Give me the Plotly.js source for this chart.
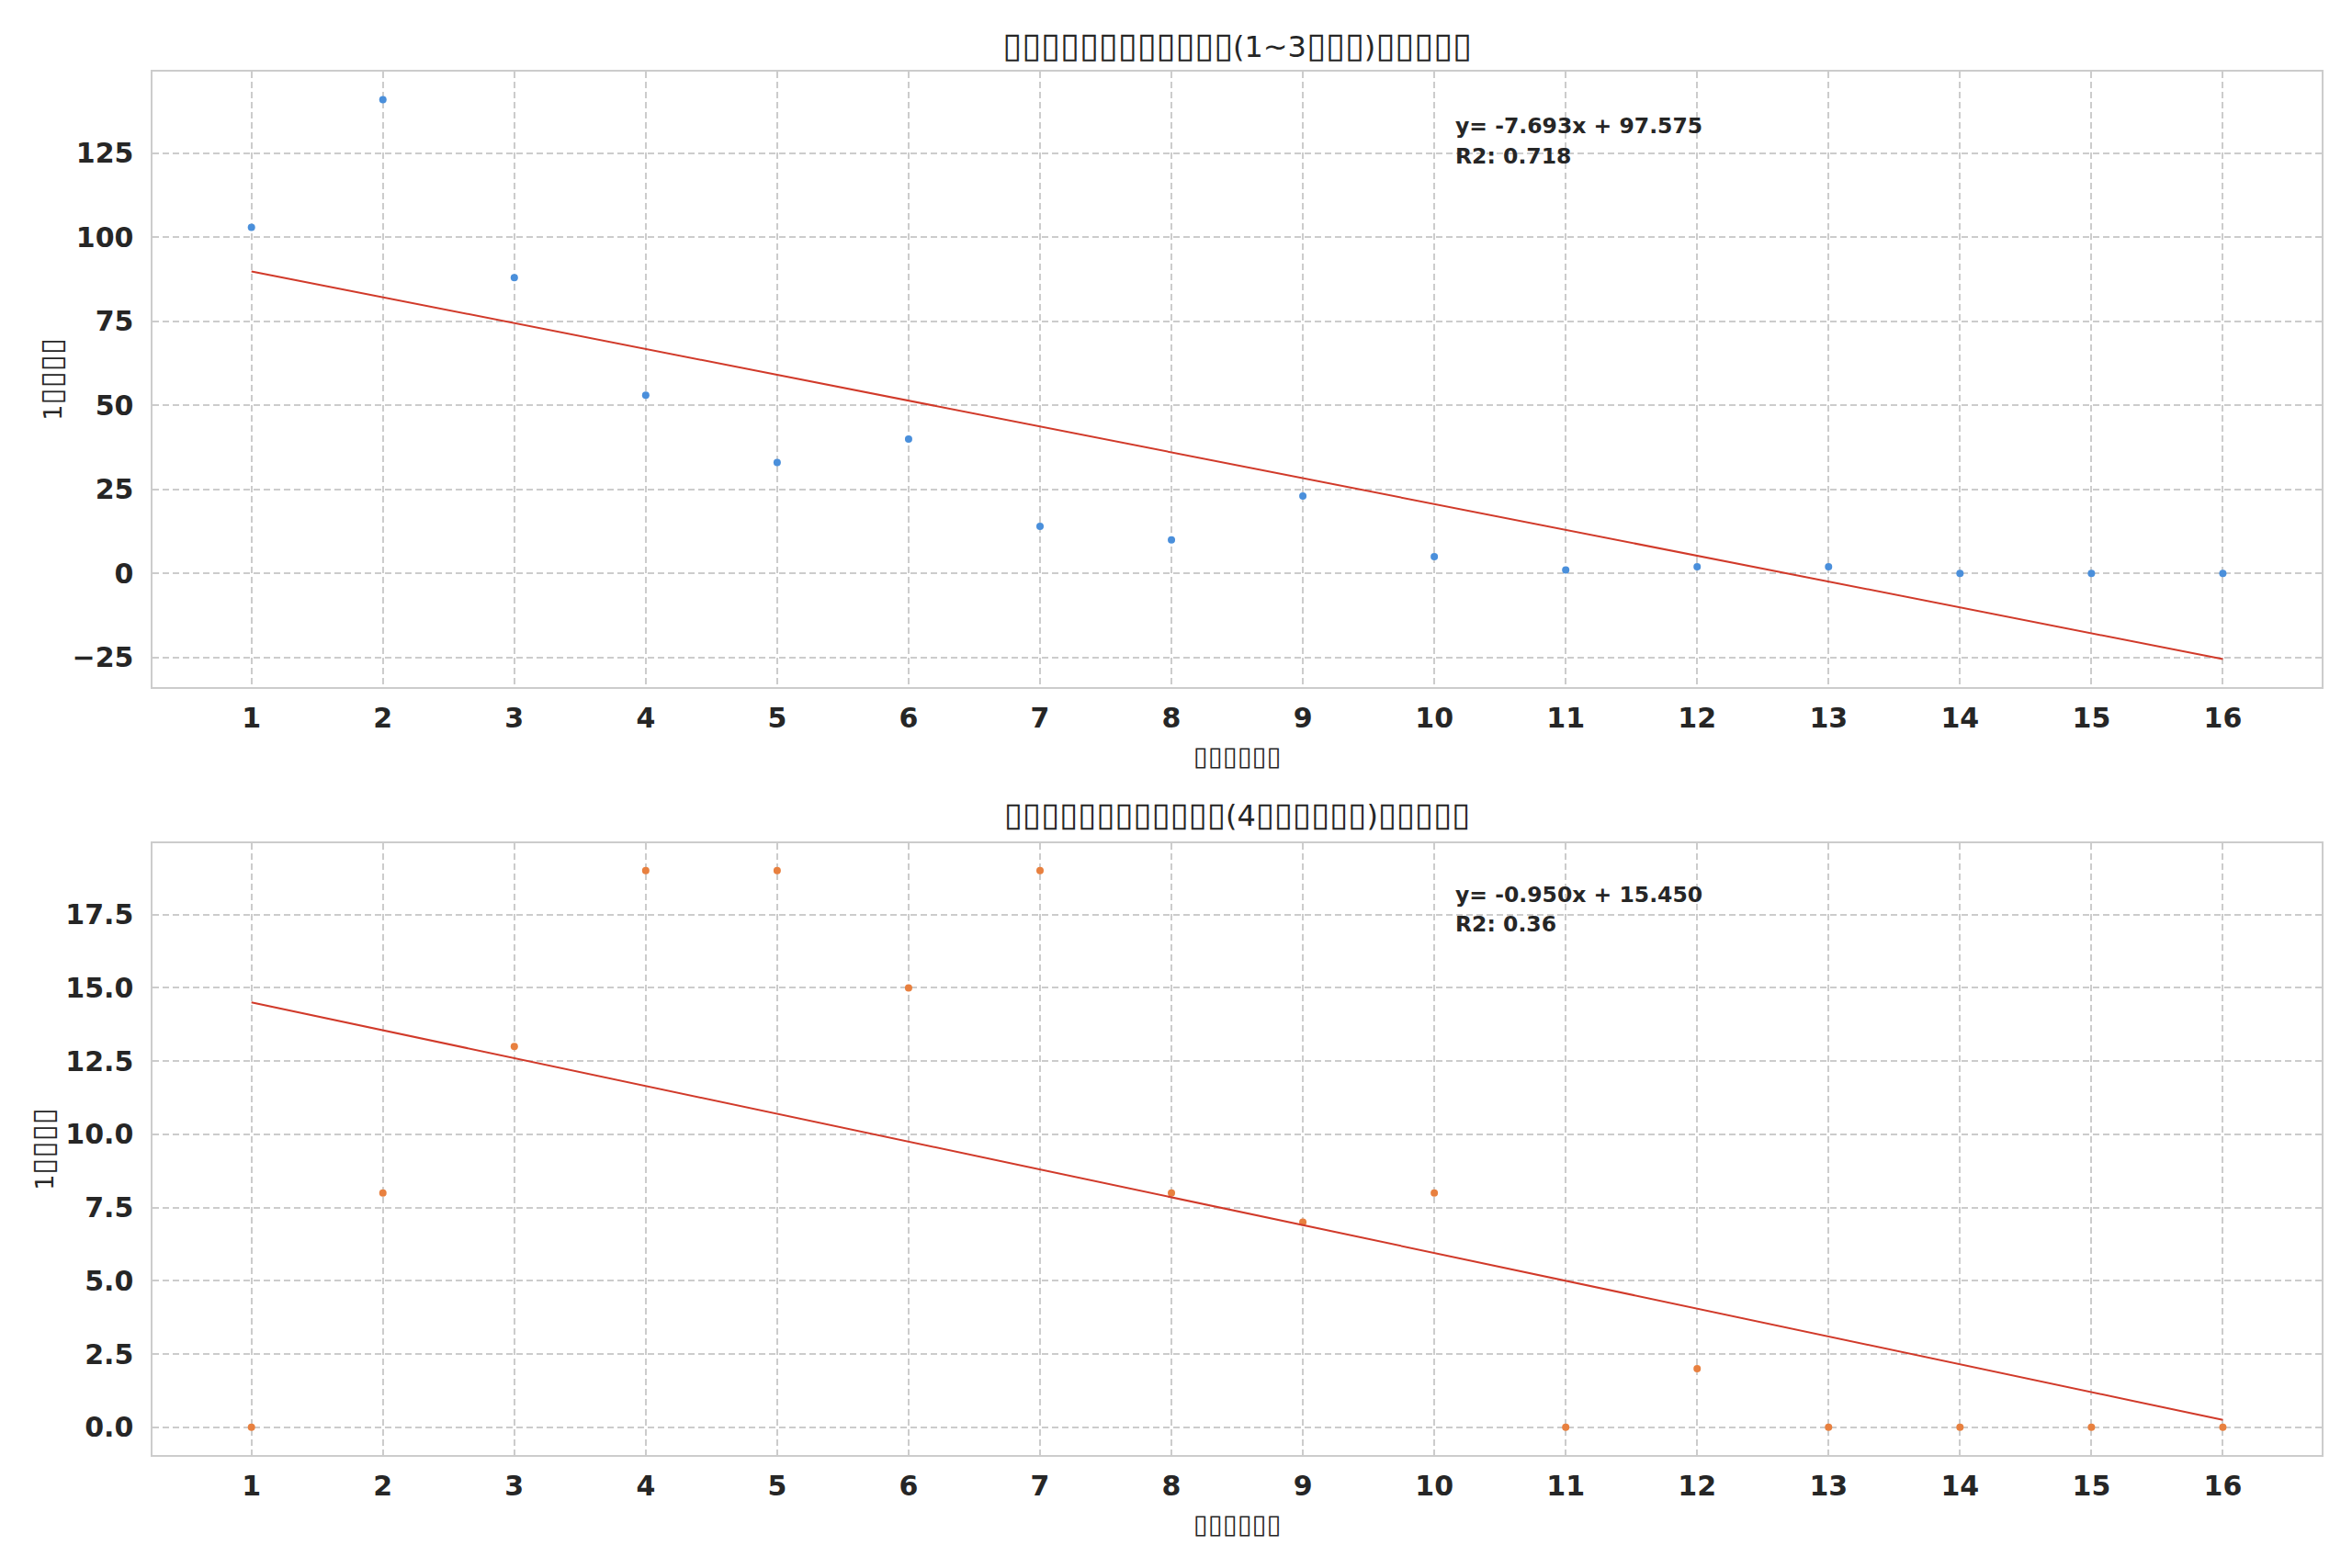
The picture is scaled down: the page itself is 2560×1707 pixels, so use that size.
<!DOCTYPE html>
<html>
<head>
<meta charset="utf-8">
<script src="https://cdn.plot.ly/plotly-3.0.1.min.js"></script>
<style>
  html, body { margin: 0; padding: 0; background: #ffffff; }
  #chart { width: 2560px; height: 1707px; }
</style>
</head>
<body>
<div id="chart"></div>
<script>
// weeks on the x axis, counts per week for the two groups
var weeks = [1, 2, 3, 4, 5, 6, 7, 8, 9, 10, 11, 12, 13, 14, 15, 16];
var counts_top = [103, 141, 88, 53, 33, 40, 14, 10, 23, 5, 1, 2, 2, 0, 0, 0];
var counts_bottom = [0, 8, 13, 19, 19, 15, 19, 8, 7, 8, 0, 2, 0, 0, 0, 0];

// text as it appears in the picture (missing glyphs shown as boxes)
var titles = ['▯▯▯▯▯▯▯▯▯▯▯▯(1~3▯▯▯)▯▯▯▯▯', '▯▯▯▯▯▯▯▯▯▯▯▯(4▯▯▯▯▯▯)▯▯▯▯▯'];
var x_label = '▯▯▯▯▯▯';
var y_label = '1▯▯▯▯';
var eq_labels = ['y= -7.693x + 97.575', 'y= -0.950x + 15.450'];
var r2_labels = ['R2: 0.718', 'R2: 0.36'];

var point_colors = ['#4a8fdb', '#e8803f'];
var fit_color = '#d13a2a';
var grid_color = '#cccccc';
var text_color = '#262626';

// least squares line through the points
function fit_line(x, y) {
    var n = x.length;
    var mx = x.reduce((a, b) => a + b, 0) / n;
    var my = y.reduce((a, b) => a + b, 0) / n;
    var sxy = 0, sxx = 0;
    for (var i = 0; i < n; i++) {
        sxy += (x[i] - mx) * (y[i] - my);
        sxx += (x[i] - mx) * (x[i] - mx);
    }
    var slope = sxy / sxx;
    var intercept = my - slope * mx;
    return x.map(v => slope * v + intercept);
}

// matplotlib style 5% padding
function pad_range(values) {
    var lo = Math.min.apply(null, values);
    var hi = Math.max.apply(null, values);
    var m = (hi - lo) * 0.05;
    return [lo - m, hi + m];
}

// the missing-glyph boxes are drawn a bit larger than the rest
function boxes(text, size) {
    return text.replace(/(▯+)/g, '<span style="font-size:' + size + 'px">$1</span>');
}

var fit_top = fit_line(weeks, counts_top);
var fit_bottom = fit_line(weeks, counts_bottom);

var tick_font = {family: 'DejaVu Sans', size: 30, color: text_color, weight: 'bold'};

function x_axis(anchor) {
    return {
        anchor: anchor,
        domain: [0.065, 0.987],
        range: pad_range(weeks),
        tickvals: weeks,
        ticktext: weeks.map(String),
        showgrid: true,
        gridcolor: grid_color,
        gridwidth: 2,
        griddash: '7px,4px',
        zeroline: false,
        showline: true,
        mirror: true,
        linecolor: grid_color,
        linewidth: 2,
        ticks: '',
        ticklabelstandoff: 6,
        tickfont: tick_font
    };
}

function y_axis(anchor, domain, range, dtick, fmt) {
    return {
        anchor: anchor,
        domain: domain,
        range: range,
        dtick: dtick,
        tick0: 0,
        tickformat: fmt,
        showgrid: true,
        gridcolor: grid_color,
        gridwidth: 2,
        griddash: '7px,4px',
        zeroline: false,
        showline: true,
        mirror: true,
        linecolor: grid_color,
        linewidth: 2,
        ticks: '',
        ticklabelstandoff: 13,
        tickfont: tick_font
    };
}

var data = [
    {x: weeks, y: counts_top, xaxis: 'x', yaxis: 'y', mode: 'markers',
     marker: {color: point_colors[0], size: 8}, hoverinfo: 'x+y'},
    {x: weeks, y: fit_top, xaxis: 'x', yaxis: 'y', mode: 'lines',
     line: {color: fit_color, width: 2}},
    {x: weeks, y: counts_bottom, xaxis: 'x2', yaxis: 'y2', mode: 'markers',
     marker: {color: point_colors[1], size: 8}, hoverinfo: 'x+y'},
    {x: weeks, y: fit_bottom, xaxis: 'x2', yaxis: 'y2', mode: 'lines',
     line: {color: fit_color, width: 2}}
];

function note(text, x, y, opts) {
    return Object.assign({
        text: text, xref: 'paper', yref: 'paper', x: x, y: y,
        showarrow: false, xanchor: 'center', yanchor: 'middle',
        font: {family: 'DejaVu Sans', size: 27, color: text_color}
    }, opts || {});
}

var eq_font = {family: 'DejaVu Sans', size: 23.5, color: text_color, weight: 'bold'};
var title_font = {family: 'DejaVu Sans', size: 32, color: text_color};

var layout = {
    width: 2560,
    height: 1707,
    margin: {l: 0, r: 0, t: 0, b: 0},
    paper_bgcolor: '#ffffff',
    plot_bgcolor: '#ffffff',
    showlegend: false,
    xaxis: x_axis('y'),
    yaxis: y_axis('x', [0.5618, 0.9543], pad_range(counts_top.concat(fit_top)), 25, 'd'),
    xaxis2: x_axis('y2'),
    yaxis2: y_axis('x2', [0.0720, 0.4625], pad_range(counts_bottom.concat(fit_bottom)), 2.5, '.1f'),
    annotations: [
        note(boxes(titles[0], 38), 0.526, 0.9713, {font: title_font}),
        note(boxes(titles[1], 36.5), 0.526, 0.4806, {font: title_font}),
        note(boxes(x_label, 29), 0.526, 1 - 823 / 1707),
        note(boxes(x_label, 29), 0.526, 1 - 1659 / 1707),
        note(boxes(y_label, 33), 0.0217, 0.758, {textangle: -90}),
        note(boxes(y_label, 33), 0.0184, 0.2673, {textangle: -90}),
        note(eq_labels[0], 0.618, 0.9197, {xanchor: 'left', font: eq_font}),
        note(r2_labels[0], 0.618, 0.9004, {xanchor: 'left', font: eq_font}),
        note(eq_labels[1], 0.618, 0.4297, {xanchor: 'left', font: eq_font}),
        note(r2_labels[1], 0.618, 0.4107, {xanchor: 'left', font: eq_font})
    ]
};

Plotly.newPlot('chart', data, layout, {staticPlot: true});
</script>
</body>
</html>
